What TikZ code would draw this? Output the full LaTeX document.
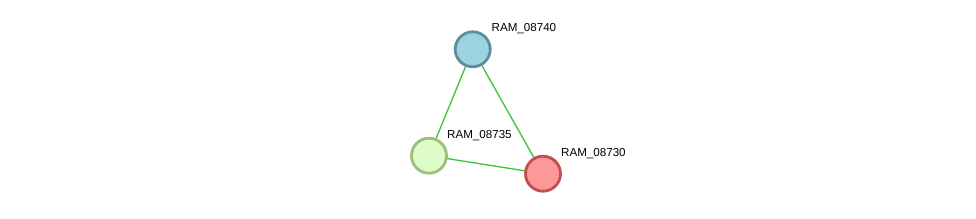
\documentclass[tikz,border=0pt]{standalone}
\usepackage{fontspec}
\setmainfont{Liberation Sans}
\usepackage{tikz}
\usetikzlibrary{positioning,backgrounds}
\definecolor{cBlueFill}{HTML}{9DD3E1}
\definecolor{cBlueLine}{HTML}{5B8E9E}
\definecolor{cGreenFill}{HTML}{DDFCC6}
\definecolor{cGreenLine}{HTML}{9DBF7D}
\definecolor{cRedFill}{HTML}{FD9898}
\definecolor{cRedLine}{HTML}{C0504F}
\definecolor{cEdge}{HTML}{3BC43B}
\tikzset{
  prot/.style={circle,draw=#1Line,fill=#1Fill,line width=2.8pt,minimum size=35pt,inner sep=0pt},
  prot/.default=cBlue,
  plbl/.style={font=\fontsize{11.6}{13}\selectfont,text=black,anchor=south west,inner sep=0pt},
  edge/.style={cEdge,line width=1.3pt},
}
\begin{document}
\begin{tikzpicture}[x=1pt,y=-1pt]
    \useasboundingbox (0,0) rectangle (976,219);
    \node[prot=cBlue]  (r740) at (472.7,49.3) {};
    \node[prot=cGreen] (r735) at (429.0,155.7) {};
    \node[prot=cRed]   (r730) at (543.0,173.7) {};
    \begin{scope}[on background layer]
      \draw[edge] (r740.center) -- (r735.center);
      \draw[edge] (r740.center) -- (r730.center);
      \draw[edge] (r735.center) -- (r730.center);
    \end{scope}
    \node[plbl] (l740) at (491.5,34.0) {RAM\_08740};
    \node[plbl] (l735) at (447.0,140.8) {RAM\_08735};
    \node[plbl] (l730) at (561.0,158.8) {RAM\_08730};
  \end{tikzpicture}
\end{document}
